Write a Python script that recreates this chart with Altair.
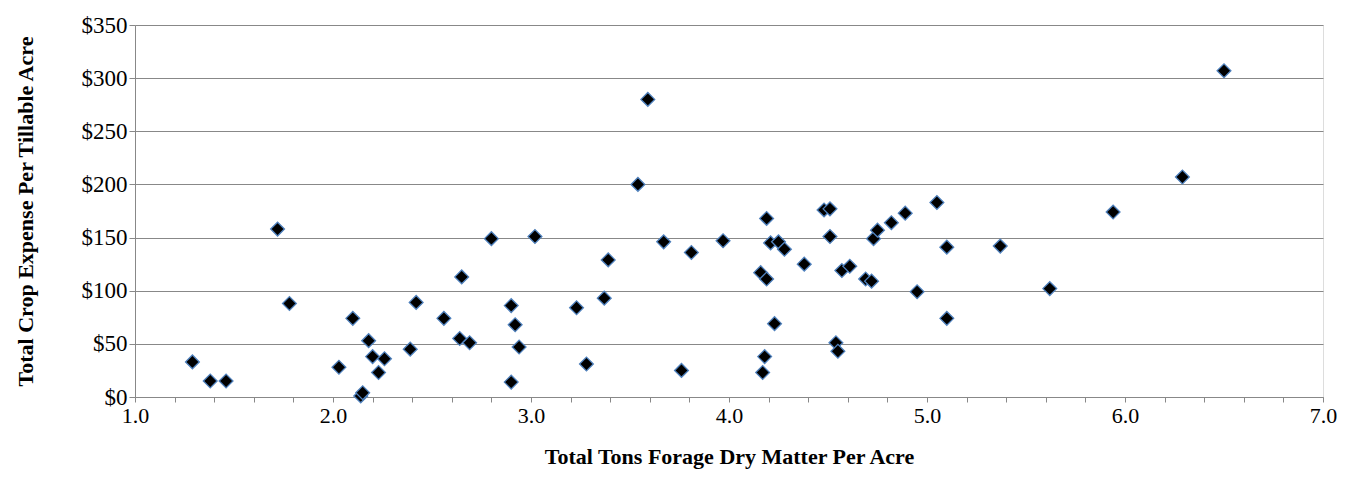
import altair as alt
import pandas as pd

tons = [1.29,1.38,1.46,1.72,1.78,2.03,2.10,2.14,2.15,2.18,2.20,2.23,2.26,2.39,2.42,2.56,2.64,2.65,2.69,2.80,
        2.90,2.90,2.92,2.94,3.02,3.23,3.28,3.37,3.39,3.54,3.59,3.67,3.76,3.81,3.97,4.16,4.17,4.18,4.19,4.19,
        4.21,4.23,4.25,4.28,4.38,4.48,4.51,4.51,4.54,4.55,4.57,4.61,4.69,4.72,4.73,4.75,4.82,4.89,4.95,5.05,
        5.10,5.10,5.37,5.62,5.94,6.29,6.50]
expense = [33,15,15,158,88,28,74,1,4,53,38,23,36,45,89,74,55,113,51,149,
           86,14,68,47,151,84,31,93,129,200,280,146,25,136,147,117,23,38,168,111,
           145,69,146,139,125,176,177,151,51,43,119,123,111,109,149,157,164,173,99,183,
           141,74,142,102,174,207,307]

df = pd.DataFrame({"t": tons, "e": expense})
font = "Liberation Serif"
xticks = [round(1 + 0.2 * i, 1) for i in range(31)]

chart = alt.Chart(df).mark_point(shape="diamond", filled=True, size=190, fill="black",
                                  stroke="#4f81bd", strokeWidth=1.3, opacity=1).encode(
    x=alt.X("t:Q", scale=alt.Scale(domain=[1, 7], nice=False),
            axis=alt.Axis(title="Total Tons Forage Dry Matter Per Acre", values=xticks,
                          labelExpr="abs(datum.value - round(datum.value)) < 0.01 ? format(datum.value, '.1f') : ''",
                          grid=False, tickSize=5, tickColor="#888", domainColor="#888", labelFlush=False,
                          labelFont=font, labelFontSize=22, labelColor="black", labelPadding=3,
                          titleFont=font, titleFontSize=22, titleFontWeight="bold", titleColor="black",
                          titlePadding=20)),
    y=alt.Y("e:Q", scale=alt.Scale(domain=[0, 350], nice=False),
            axis=alt.Axis(title="Total Crop Expense Per Tillable Acre", values=list(range(0, 351, 50)),
                          format="$,.0f", grid=True, gridColor="#888", tickSize=6, tickColor="#888",
                          domainColor="#888", labelFlush=False, labelFont=font, labelFontSize=23, labelColor="black",
                          titleFont=font, titleFontSize=22, titleFontWeight="bold", titleColor="black",
                          titlePadding=44)),
).properties(width=1188, height=372, autosize=alt.AutoSizeParams(type="none"),
             padding={"left": 127, "top": 17, "right": 14, "bottom": 78}
).configure_view(stroke=None).configure(background="white")

chart.save("out.html", embed_options={"renderer": "svg", "actions": False})
